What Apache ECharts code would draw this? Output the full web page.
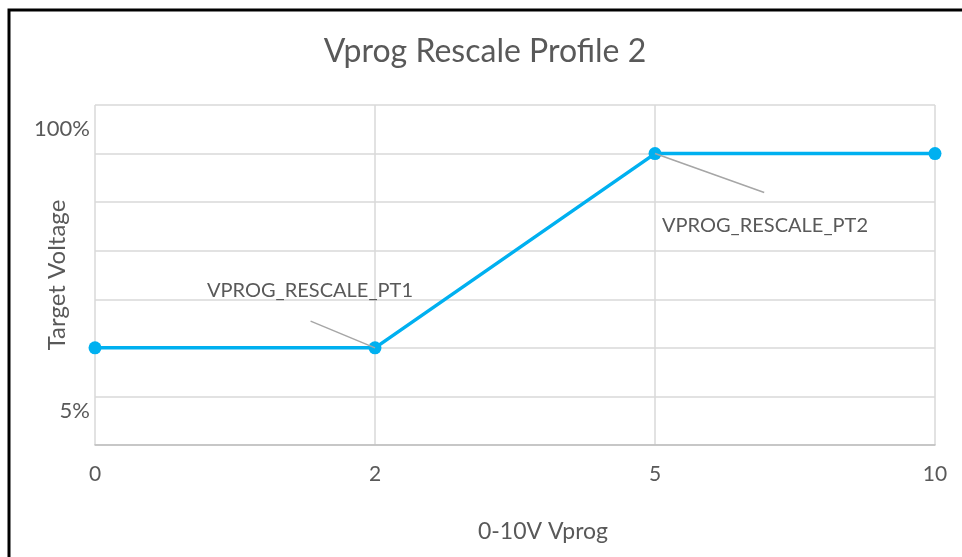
<!DOCTYPE html>
<html>
<head>
<meta charset="utf-8">
<script src="https://cdn.jsdelivr.net/npm/echarts@6/dist/echarts.min.js"></script>
<style>
  html, body { margin: 0; padding: 0; background: #fff; }
  #chart { width: 962px; height: 557px; }
</style>
</head>
<body>
<div id="chart"></div>
<script>
// x 轴刻度（等距排列）
const xLabels = ["0", "2", "5", "10"];
// 目标电压（网格单位）
const yValues = [2, 2, 6, 6];
// 数据点标注
const pointNames = ["", "VPROG_RESCALE_PT1", "VPROG_RESCALE_PT2", ""];
// y 轴标签
const yTickValues = [0.7, 6.5];
const yTickTexts = ["5%", "100%"];

const textColor = "#595959";
const font = "Lato";

function renderChart() {
  const myChart = echarts.init(document.querySelector("#chart"));

  // 标注文字位置（相对数据点）
  const labelOffsets = [null, [-65, -57], [110, 72], null];
  // 引线终点（相对数据点，数据单位）
  const leaderEnds = [null, [-0.23, 0.55], [0.39, -0.8], null];

  const data = yValues.map((v, i) => {
    const item = { value: [i, v] };
    if (pointNames[i]) {
      item.label = {
        show: true,
        formatter: pointNames[i],
        position: "inside",
        offset: labelOffsets[i],
        align: "center",
        verticalAlign: "middle",
        color: textColor,
        fontFamily: font,
        fontSize: 20,
      };
    }
    return item;
  });

  const leaders = [];
  yValues.forEach((v, i) => {
    if (leaderEnds[i]) {
      leaders.push([
        { coord: [i, v] },
        { coord: [i + leaderEnds[i][0], v + leaderEnds[i][1]] },
      ]);
    }
  });

  const option = {
    animation: false,
    backgroundColor: "#fff",
    title: {
      text: "Vprog Rescale Profile 2",
      left: 480,
      textAlign: "center",
      top: 31,
      textStyle: {
        color: textColor,
        fontFamily: font,
        fontSize: 32,
        fontWeight: "normal",
      },
    },
    graphic: [
      {
        type: "rect",
        shape: { x: 9, y: 10, width: 1000, height: 600 },
        style: { fill: "none", stroke: "#000", lineWidth: 3 },
        silent: true,
      },
    ],
    grid: { left: 95, right: 27, top: 105, bottom: 112 },
    xAxis: {
      type: "value",
      min: 0,
      max: 3,
      interval: 1,
      name: "0-10V Vprog",
      nameLocation: "middle",
      nameGap: 75,
      nameTextStyle: {
        color: textColor,
        fontFamily: font,
        fontSize: 23,
        padding: [0, 0, 0, 56],
      },
      axisLine: { show: true, lineStyle: { color: "#bfbfbf", width: 1.5 } },
      axisTick: { show: false },
      axisLabel: {
        margin: 19,
        color: textColor,
        fontFamily: font,
        fontSize: 21,
        formatter: (v) => xLabels[Math.round(v)] ?? "",
      },
      splitLine: { show: true, lineStyle: { color: "#d9d9d9", width: 1.5 } },
    },
    yAxis: [
      {
        type: "value",
        min: 0,
        max: 7,
        interval: 1,
        name: "Target Voltage",
        nameLocation: "middle",
        nameGap: 26,
        nameTextStyle: { color: textColor, fontFamily: font, fontSize: 24 },
        axisLine: { show: false },
        axisTick: { show: false },
        axisLabel: { show: false },
        splitLine: { show: true, lineStyle: { color: "#d9d9d9", width: 1.5 } },
      },
      {
        type: "value",
        position: "left",
        min: 0,
        max: 7,
        interval: 0.1,
        axisLine: { show: false },
        axisTick: { show: false },
        splitLine: { show: false },
        axisLabel: {
          margin: 5,
          color: textColor,
          fontFamily: font,
          fontSize: 22,
          formatter: (v) => {
            const k = yTickValues.findIndex((t) => Math.abs(t - v) < 1e-6);
            return k >= 0 ? yTickTexts[k] : "";
          },
        },
      },
    ],
    series: [
      {
        type: "line",
        data: data,
        yAxisIndex: 0,
        symbol: "circle",
        symbolSize: 13,
        itemStyle: { color: "#00b0f0" },
        lineStyle: { color: "#00b0f0", width: 3.5 },
        markLine: {
          silent: true,
          symbol: "none",
          label: { show: false },
          lineStyle: { color: "#a6a6a6", width: 1.5, type: "solid" },
          data: leaders,
        },
      },
    ],
  };

  myChart.setOption(option);
}
renderChart();
</script>
</body>
</html>
